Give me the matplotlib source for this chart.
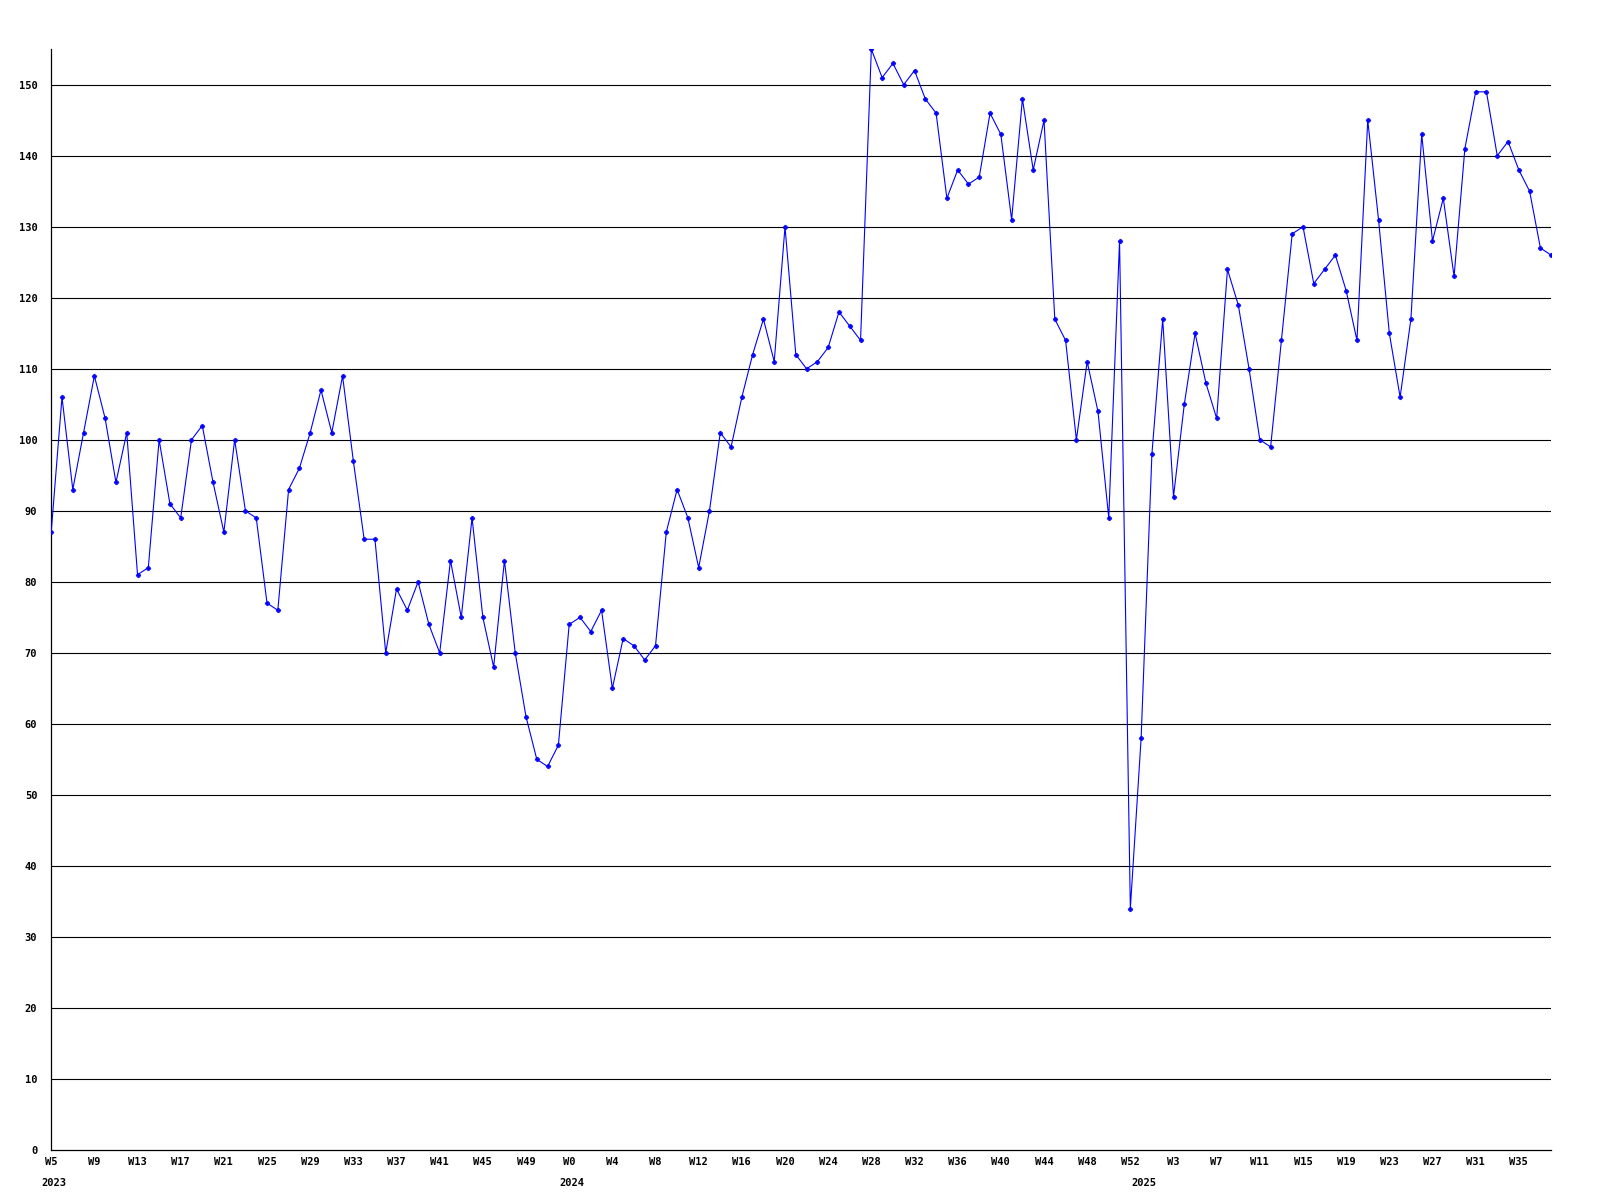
import matplotlib
matplotlib.use("Agg")
import matplotlib.pyplot as plt

# weekly values, 2023 W5 .. 2025 W38
values = [
    87, 106, 93, 101, 109, 103, 94, 101, 81, 82, 100, 91, 89, 100, 102, 94, 87, 100, 90, 89,
    77, 76, 93, 96, 101, 107, 101, 109, 97, 86, 86, 70, 79,
    76, 80, 74, 70, 83, 75, 89, 75, 68, 83, 70, 61, 55, 54, 57, 74, 75, 73, 76, 65,
    72, 71, 69, 71, 87, 93, 89, 82,
    90, 101, 99, 106, 112, 117, 111, 130, 112, 110, 111, 113, 118, 116, 114, 155, 151, 153, 150, 152,
    148, 146, 134, 138, 136, 137, 146, 143,
    131, 148, 138, 145, 117, 114, 100, 111, 104, 89, 128, 34, 58, 98, 117, 92, 105, 115, 108, 103,
    124, 119, 110, 100, 99, 114, 129, 130, 122, 124, 126, 121,
    114, 145, 131, 115, 106, 117, 143, 128, 134, 123, 141, 149, 149, 140, 142, 138, 135, 127, 126,
]

week_labels = ["W5", "W9", "W13", "W17", "W21", "W25", "W29", "W33", "W37", "W41", "W45", "W49",
               "W0", "W4", "W8", "W12", "W16", "W20", "W24", "W28", "W32", "W36", "W40", "W44",
               "W48", "W52", "W3", "W7", "W11", "W15", "W19", "W23", "W27", "W31", "W35"]
years = ["2023", "2024", "2025"]
year_idx = [0, 48, 101]

font = {"family": "DejaVu Sans Mono", "weight": "bold", "size": 7.5}

fig = plt.figure(figsize=(16, 12), dpi=100)
ax = fig.add_axes([0.032, 0.0417, 0.9375, 0.9173])

x = list(range(len(values)))
ax.plot(x, values, color="#0000ff", lw=0.8, marker="P", ms=3.2, mec="#0000ff", mfc="#0000ff",
        mew=0.5, zorder=3)

ax.set_xlim(0, len(values) - 1)
ax.set_ylim(0, 155)
ax.set_yticks(range(0, 151, 10))
ax.set_yticklabels([str(v) for v in range(0, 151, 10)], fontdict=font)
for v in range(10, 151, 10):
    ax.axhline(v, color="black", lw=0.8, zorder=1)

ax.set_xticks(range(0, len(values), 4))
ax.set_xticklabels(week_labels, fontdict=font)
ax.tick_params(axis="both", length=0)
ax.tick_params(axis="x", pad=5)
ax.tick_params(axis="y", pad=10)

for yr, i in zip(years, year_idx):
    ax.annotate(yr, xy=(i, 0), xycoords=("data", "axes fraction"),
                xytext=(-7, -20), textcoords="offset points",
                ha="left", va="top", **font)

for s in ["top", "right"]:
    ax.spines[s].set_visible(False)
for s in ["left", "bottom"]:
    ax.spines[s].set_color("black")
    ax.spines[s].set_linewidth(0.9)

fig.savefig("out.png", dpi=100)
